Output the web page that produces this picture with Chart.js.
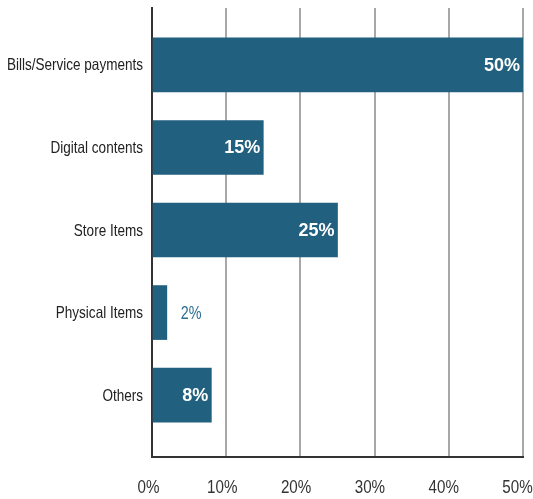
<!DOCTYPE html>
<html>
<head>
<meta charset="utf-8">
<script src="https://cdn.jsdelivr.net/npm/chart.js@4"></script>
<style>
    body { margin: 0; background: #fff; }
    #wrap { width: 533px; height: 499px; position: relative; }
</style>
</head>
<body>
<div id="wrap"><canvas id="paymentsChart"></canvas></div>
<script>
const categories = ['Bills/Service payments', 'Digital contents', 'Store Items', 'Physical Items', 'Others'];
const shares = [50, 15, 25, 2, 8];
const xTicks = [0, 10, 20, 30, 40, 50];

const barColor = '#21607f';
const baseFont = "'Liberation Sans', Arial, sans-serif";
const NARROW = 0.82; // horizontal squeeze that turns Liberation Sans into a narrow face

// y is a plain linear index so the grid can run past the first and last bar
const barData = shares.map((v, i) => ({ x: v, y: i }));

function narrowText(ctx, text, x, y) {
    ctx.save();
    ctx.translate(x, y);
    ctx.scale(NARROW, 1);
    ctx.fillText(text, 0, 0);
    ctx.restore();
}

// _+_+_+_+_+ AXIS LABELS (narrow face) _+_+_+_+_+
const narrowTicks = {
    id: 'narrowTicks',
    afterDraw(chart) {
        const ctx = chart.ctx;
        const xs = chart.scales.x;
        const ys = chart.scales.y;
        const area = chart.chartArea;
        ctx.save();
        ctx.textBaseline = 'middle';

        ctx.font = '16.5px ' + baseFont;
        ctx.fillStyle = '#222222';
        ctx.textAlign = 'right';
        categories.forEach((c, i) => narrowText(ctx, c, area.left - 9, ys.getPixelForValue(i) + 1));

        // percent ticks sit a little left of their grid line, more so toward the right edge
        ctx.font = '18.5px ' + baseFont;
        ctx.fillStyle = '#333333';
        ctx.textAlign = 'center';
        xTicks.forEach(v => narrowText(ctx, v + '%', xs.getPixelForValue(v) - 3.5 - v * 0.04, area.bottom + 31));
        ctx.restore();
    }
};

// _+_+_+_+_+ VALUE LABELS _+_+_+_+_+
const valueLabels = {
    id: 'valueLabels',
    afterDatasetsDraw(chart) {
        const ctx = chart.ctx;
        const meta = chart.getDatasetMeta(0);
        ctx.save();
        ctx.textBaseline = 'middle';
        meta.data.forEach((bar, i) => {
            const text = shares[i] + '%';
            if (shares[i] >= 5) {
                // big enough: white label inside the bar end
                ctx.font = 'bold 18px ' + baseFont;
                ctx.fillStyle = '#ffffff';
                ctx.textAlign = 'right';
                ctx.fillText(text, bar.x - 3, bar.y + 1);
            } else {
                ctx.font = '17.5px ' + baseFont;
                ctx.fillStyle = '#2f6e93';
                ctx.textAlign = 'left';
                narrowText(ctx, text, bar.x + 14, bar.y + 2);
            }
        });
        ctx.restore();
    }
};

new Chart(document.getElementById('paymentsChart'), {
    type: 'bar',
    data: {
        datasets: [{
            data: barData,
            backgroundColor: barColor,
            borderWidth: 0,
            barThickness: 54
        }]
    },
    options: {
        indexAxis: 'y',
        responsive: true,
        maintainAspectRatio: false,
        animation: false,
        layout: { padding: { top: 8, right: 10, bottom: 0, left: 0 } },
        plugins: {
            legend: { display: false },
            tooltip: { enabled: false }
        },
        scales: {
            x: {
                type: 'linear',
                min: xTicks[0],
                max: xTicks[xTicks.length - 1],
                afterBuildTicks: scale => { scale.ticks = xTicks.map(v => ({ value: v })); },
                grid: { color: '#a8a8a8', lineWidth: 2, drawTicks: false },
                border: { display: true, color: '#333333', width: 2 },
                ticks: { display: false },
                afterFit: scale => {
                    scale.height = 42;
                    scale.paddingLeft = 0;
                    scale.paddingRight = 0;
                }
            },
            y: {
                type: 'linear',
                reverse: true,
                offset: false,
                min: -0.69,
                max: 4.75,
                grid: { display: false, drawTicks: false, offset: false },
                border: { display: true, color: '#333333', width: 2 },
                afterBuildTicks: scale => { scale.ticks = categories.map((c, i) => ({ value: i })); },
                ticks: { display: false },
                afterFit: scale => {
                    scale.width = 152;
                    scale.paddingTop = 0;
                    scale.paddingBottom = 0;
                }
            }
        }
    },
    plugins: [valueLabels, narrowTicks]
});
</script>
</body>
</html>
